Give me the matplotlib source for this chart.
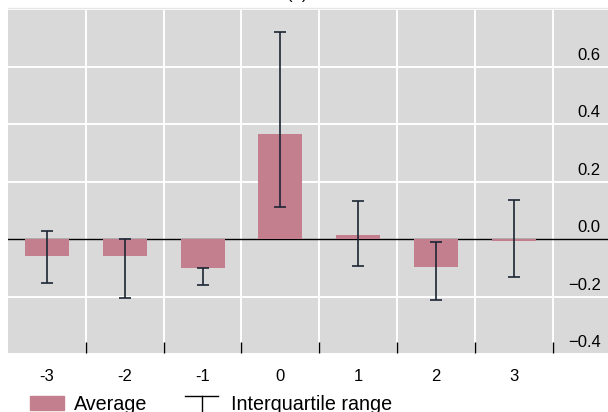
import matplotlib
matplotlib.use("Agg")
import matplotlib.pyplot as plt
import matplotlib.transforms as mtransforms
from matplotlib.patches import Rectangle
from matplotlib.lines import Line2D

plt.rcParams["font.family"] = ["Liberation Sans", "DejaVu Sans"]

# data
leads = [-3, -2, -1, 0, 1, 2, 3]
lead_labels = ["-3", "-2", "-1", "0", "1", "2", "3"]
average = [-0.060, -0.060, -0.099, 0.366, 0.014, -0.097, -0.005]
iqr_low = [-0.151, -0.203, -0.159, 0.112, -0.092, -0.210, -0.131]
iqr_high = [0.029, -0.001, -0.099, 0.721, 0.134, -0.011, 0.137]
y_ticks = [-0.4, -0.2, 0.0, 0.2, 0.4, 0.6]
y_tick_labels = ["\u22120.4", "\u22120.2", "0.0", "0.2", "0.4", "0.6"]

BG = "#d9d9d9"
BAR = "#c47f8e"
ERR = "#1c2534"

W, H = 608, 412
fig = plt.figure(figsize=(W / 100, H / 100), dpi=100)


def fx(px):
    return px / W


def fy(py):
    return 1 - py / H


ax = fig.add_axes([fx(8), fy(352.7), fx(600), fy(10) - fy(352.7)])
ax.set_facecolor(BG)
for s in ax.spines.values():
    s.set_visible(False)

ax.set_xlim(-3.5, 4.21)
ax.set_ylim(-0.395, 0.797)

# grid lines between categories and at y ticks
bounds = [x + 0.5 for x in leads]
for b in bounds:
    ax.axvline(b, color="white", lw=1.4, zorder=1)
for t in y_ticks:
    if t != 0 and t > -0.39:
        ax.axhline(t, color="white", lw=1.4, zorder=1)
ax.axhline(0, color="black", lw=1.0, zorder=2)

ax.bar(leads, average, width=0.565, color=BAR, zorder=3)
mid = [(l + h) / 2 for l, h in zip(iqr_low, iqr_high)]
half = [(h - l) / 2 for l, h in zip(iqr_low, iqr_high)]
ax.errorbar(leads, mid, yerr=half, fmt="none", ecolor=ERR, elinewidth=1.2,
            capsize=4, capthick=1.2, zorder=4)

# x axis: labels at categories, tick marks at boundaries (inside)
ax.set_xticks(leads)
ax.set_xticklabels(lead_labels, fontsize=12)
ax.tick_params(axis="x", which="major", length=0, pad=12)
ax.set_xticks(bounds, minor=True)
ax.tick_params(axis="x", which="minor", direction="in", length=8, width=1,
               color="black")
ax.set_yticks([])

# y labels inside on the right, just above their grid lines
trans = mtransforms.offset_copy(ax.get_yaxis_transform(), fig=fig,
                                x=0, y=5, units="points")
for t, lab in zip(y_ticks, y_tick_labels):
    ax.text(0.988, t, lab, transform=trans, ha="right", va="baseline",
            fontsize=12, zorder=5)

# faint line above the panel
fig.add_artist(Line2D([fx(8), 1], [fy(8.3), fy(8.3)], color="#e6e6e6", lw=1,
                      transform=fig.transFigure))

# title, cropped at the top edge like the reference
fig.text(fx(297), fy(-1), "(b)", ha="center", va="baseline", fontsize=12)

# legend
fig.add_artist(Rectangle((fx(30), fy(410)), fx(34), fy(396) - fy(410),
                         color=BAR, transform=fig.transFigure))
fig.text(fx(74), fy(410), "Average", ha="left", va="baseline", fontsize=14.2)
fig.add_artist(Line2D([fx(185), fx(218)], [fy(396), fy(396)], color="black",
                      lw=1, transform=fig.transFigure))
fig.add_artist(Line2D([fx(202), fx(202)], [fy(396), fy(414)], color="black",
                      lw=1, transform=fig.transFigure))
fig.text(fx(231), fy(410), "Interquartile range", ha="left", va="baseline",
         fontsize=14.2)

fig.savefig("out.png", dpi=100)
